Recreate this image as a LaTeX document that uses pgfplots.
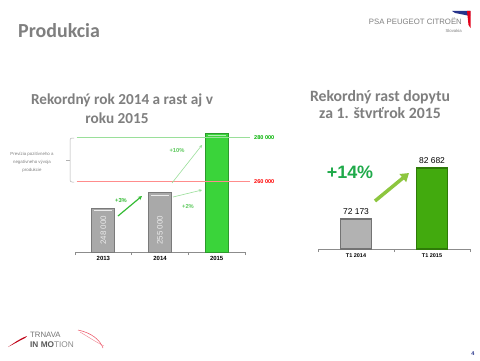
\documentclass[border=0pt]{standalone}
\usepackage{fontspec}
\setmainfont{Liberation Sans}
\newfontfamily\calibri{Carlito}
\usepackage{pgfplots}
\pgfplotsset{compat=1.18}
\usetikzlibrary{arrows.meta}
\definecolor{titlegray}{HTML}{7F7F7F}
\definecolor{bargray}{HTML}{A9A9A9}
\definecolor{bargraydark}{HTML}{7A7A7A}
\definecolor{bargreen}{HTML}{3AD43A}
\definecolor{bargreendark}{HTML}{2C9A2C}
\definecolor{bargreenb}{HTML}{42AA0E}
\definecolor{bargreenbdark}{HTML}{2E7A08}
\definecolor{lightgr}{HTML}{9ADF9A}
\definecolor{midgr}{HTML}{33BB33}
\definecolor{arrowgr}{HTML}{8DC63F}
\definecolor{pctgr}{HTML}{1FAA4A}
\definecolor{psared}{HTML}{E2001A}
\definecolor{psablue}{HTML}{27348B}
\begin{document}
\begin{tikzpicture}[x=1bp,y=1bp]
\path[fill=white] (0,0) rectangle (480,360);
% header
\node[anchor=west,inner sep=0pt,text=titlegray,font=\calibri\bfseries\fontsize{20}{22}\selectfont] at (18,329) {Produkcia};
\node[anchor=east,inner sep=0pt,text=titlegray,font=\fontsize{7.8}{9}\selectfont] at (462,339) {PSA PEUGEOT CITRO\"EN};
\node[anchor=east,inner sep=0pt,text=titlegray,font=\fontsize{4.3}{5}\selectfont] at (462,329) {Slovakia};
\fill[psablue] (452,349) -- (470,349) -- (470,344) -- (455,347) -- cycle;
\fill[psared] (467,349) -- (470.5,349) -- (470.5,332) -- (468.5,335) -- cycle;
% titles
\node[text=titlegray,font=\calibri\bfseries\fontsize{15.3}{17}\selectfont] at (122,260) {Rekordný rok 2014 a rast aj v};
\node[text=titlegray,font=\calibri\bfseries\fontsize{15.3}{17}\selectfont] at (117,242) {roku 2015};
\node[text=titlegray,font=\calibri\bfseries\fontsize{15.8}{17}\selectfont] at (380,263) {Rekordný rast dopytu};
\node[text=titlegray,font=\calibri\bfseries\fontsize{15.8}{17}\selectfont] at (380,247) {za 1. štvrťrok 2015};
% left chart
\begin{axis}[at={(75bp,108bp)},anchor=south west,scale only axis,width=170bp,height=132bp,
  xmin=-0.5,xmax=2.5,ymin=228000,ymax=288000,
  axis x line*=bottom,axis y line=none,x axis line style={-,draw=black!45},
  xtick={0,1,2},xticklabels={2013,2014,2015},major tick length=0pt,
  minor xtick={-0.5,0.5,1.5,2.5},minor tick length=3bp,tick align=outside,
  every tick/.style={draw=black!45},
  xticklabel style={font=\bfseries\fontsize{6}{7}\selectfont,yshift=-1bp},
  clip mode=individual]
\addplot[ybar,bar width=23bp,bar shift=0pt,fill=bargray,draw=bargraydark,line width=0.9bp] coordinates {(0,248000) (1,255000)};
\addplot[ybar,bar width=23bp,bar shift=0pt,fill=bargreen,draw=bargreendark,line width=0.9bp] coordinates {(2,282000)};
\draw[white!85!gray,line width=1bp] (axis cs:-0.16,246900) -- (axis cs:0.16,246900);
\draw[white!85!gray,line width=1bp] (axis cs:0.84,253900) -- (axis cs:1.16,253900);
\draw[white!60!bargreen,line width=1bp] (axis cs:1.84,280900) -- (axis cs:2.16,280900);
\draw[lightgr,line width=0.7bp] (axis cs:-0.47,280000) -- (axis cs:2.59,280000);
\draw[red!45,line width=0.7bp] (axis cs:-0.47,260000) -- (axis cs:2.59,260000);
\node[anchor=west,text=green!70!black,font=\bfseries\fontsize{5.6}{6}\selectfont] at (axis cs:2.6,280000) {280 000};
\node[anchor=west,text=red,font=\bfseries\fontsize{5.6}{6}\selectfont] at (axis cs:2.6,260000) {260 000};
\node[rotate=90,text=white!92!black,font=\fontsize{8}{8}\selectfont] at (axis cs:0,237800) {248 000};
\node[rotate=90,text=white!92!black,font=\fontsize{8}{8}\selectfont] at (axis cs:1,237800) {255 000};
\end{axis}
% bracket and note
\draw[black!30,line width=0.5bp,rounded corners=2bp] (74,222) -- (70,222) -- (70,200) -- (70,178) -- (74,178);
\draw[black!30,line width=0.5bp] (70,200) -- (66,200);
\node[align=center,text=black!50,font=\fontsize{4.4}{8}\selectfont] at (32,198) {Prevízia pozitívneho a\\negatívneho vývoja\\produkcie};
% growth arrows
\draw[midgr,line width=1.2bp,-{Stealth[length=4bp,width=4bp]}] (118,144) -- (142,164);
\draw[lightgr,line width=0.6bp,-{Stealth[length=3bp,width=3bp]}] (172,177) -- (202,215);
\draw[lightgr,line width=0.6bp,-{Stealth[length=3bp,width=3bp]}] (173,163) -- (202,170);
\node[text=midgr,font=\bfseries\fontsize{5.8}{6}\selectfont] at (121,159) {+3\%};
\node[text=midgr!80,font=\bfseries\fontsize{5.8}{6}\selectfont] at (177,209) {+10\%};
\node[text=midgr!80,font=\bfseries\fontsize{5.8}{6}\selectfont] at (188,153) {+2\%};
% right chart
\begin{axis}[at={(318bp,111bp)},anchor=south west,scale only axis,width=152bp,height=97bp,
  xmin=-0.5,xmax=1.5,ymin=66000,ymax=86000,
  axis x line*=bottom,axis y line=none,x axis line style={-,draw=black!45},
  xtick={0,1},xticklabels={T1 2014,T1 2015},major tick length=0pt,
  minor xtick={-0.5,0.5,1.5},minor tick length=3bp,tick align=outside,
  every tick/.style={draw=black!45},
  xticklabel style={font=\bfseries\fontsize{5.5}{7}\selectfont,yshift=-1.5bp},
  clip mode=individual]
\addplot[ybar,bar width=31bp,bar shift=0pt,fill=black!30,draw=black!55,line width=1.2bp] coordinates {(0,72173)};
\addplot[ybar,bar width=31bp,bar shift=0pt,fill=bargreenb,draw=bargreenbdark,line width=1.2bp] coordinates {(1,82682)};
\node[anchor=south,yshift=1bp,font=\fontsize{8.5}{9}\selectfont] at (axis cs:0,72173) {72 173};
\node[anchor=south,yshift=1bp,font=\fontsize{8.5}{9}\selectfont] at (axis cs:1,82682) {82 682};
\end{axis}
\node[text=pctgr,font=\bfseries\fontsize{18}{20}\selectfont] at (350,188) {+14\%};
\draw[arrowgr,line width=3.5bp,-{Triangle[length=8bp,width=10bp]}] (375,159) -- (409,187);
% footer
\node[anchor=west,inner sep=0pt,text=black!55,font=\fontsize{7.8}{8}\selectfont] at (30,25) {TRNAVA};
\node[anchor=west,inner sep=0pt,font=\fontsize{8.3}{9}\selectfont] at (30,15.5) {\textcolor{black!65}{\textbf{IN MO}}\textcolor{black!45}{TION}};
\fill[psared!85!black] (8,13) .. controls (14,17) and (19,21) .. (27,24) -- (25,22) .. controls (19,19) and (14,16) .. cycle;
\draw[psared!70,line width=0.5bp] (78,30) .. controls (92,27) and (100,20) .. (103,12);
\draw[psared!50,line width=0.4bp] (80,28) .. controls (90,22) and (96,18) .. (104,14);
\node[text=psablue,font=\bfseries\fontsize{5.5}{6}\selectfont] at (473,6) {4};
\end{tikzpicture}
\end{document}
